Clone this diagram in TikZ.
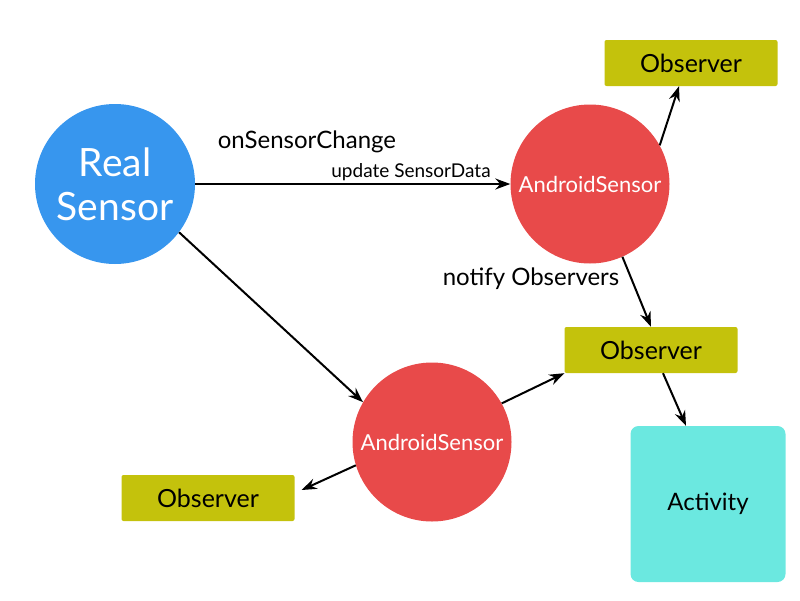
\documentclass[tikz,border=0pt]{standalone}
\usepackage{fontspec}
\setmainfont{Lato}
\usepackage{tikz}
\usetikzlibrary{arrows.meta,positioning}
\definecolor{RealBlue}{HTML}{3796EE}
\definecolor{SensorRed}{HTML}{E84A4A}
\definecolor{ObsOlive}{HTML}{C4C20C}
\definecolor{ActCyan}{HTML}{6BE8E0}

\begin{document}
\begin{tikzpicture}[x=1pt,y=-1pt,
  real/.style={circle,fill=RealBlue,minimum size=160pt,inner sep=0pt,align=center,text=white,font=\fontsize{39}{44}\selectfont},
  sensor/.style={circle,fill=SensorRed,minimum size=159pt,inner sep=0pt,text=white,font=\fontsize{22}{24}\selectfont},
  obs/.style={fill=ObsOlive,rounded corners=2pt,minimum width=173pt,minimum height=46pt,font=\fontsize{25}{28}\selectfont},
  act/.style={fill=ActCyan,rounded corners=8pt,minimum width=155pt,minimum height=156pt,font=\fontsize{24}{28}\selectfont},
  lbl/.style={inner sep=0pt,font=\fontsize{24}{28}\selectfont},
  arrow/.style={-{Stealth[length=15pt,width=11pt,inset=5pt]},line width=2pt}
]
\useasboundingbox (0,0) rectangle (800,600);
\node[real] (real) at (115,184) {Real\\Sensor};
\node[sensor] (as1) at (590,184) {AndroidSensor};
\node[sensor] (as2) at (432,442) {AndroidSensor};
\node[obs] (obs1) at (691,63) {Observer};
\node[obs] (obs2) at (651,350) {Observer};
\node[obs] (obs3) at (208,498) {Observer};
\node[act] (act) at (708,504) {Activity};
\draw[arrow] (real) -- (as1);
\draw[arrow] (real.-37) -- (as2.150);
\draw[arrow] (as1.29) -- ([xshift=-12pt]obs1.south);
\draw[arrow] (as1.-66) -- (obs2.north);
\draw[arrow] (as2.29) -- (obs2.south west);
\draw[arrow] (as2.-163) -- ([shift={(7,-8)}]obs3.east);
\draw[arrow] ([xshift=12pt]obs2.south) -- ([xshift=-22pt]act.north);
\node[lbl] (change) at (307,142) {onSensorChange};
\node[lbl,font=\fontsize{19}{22}\selectfont] (update) at (411,172) {update SensorData};
\node[lbl] (notify) at (531,279) {notify Observers};
\end{tikzpicture}
\end{document}
